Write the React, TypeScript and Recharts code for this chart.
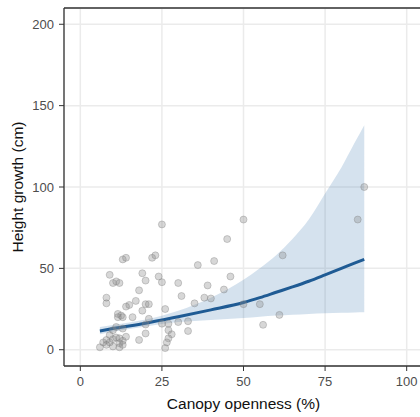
import { Area, ComposedChart, CartesianGrid, Line, ReferenceLine, Scatter, XAxis, YAxis } from "recharts";

// observed saplings: canopy openness (%) vs height growth (cm)
const ptX = [
  25, 50, 45, 13, 14, 22, 23, 36, 41, 9, 10, 11, 12, 19, 20, 24, 25, 18, 30, 39,
  46, 44, 31, 38, 40, 35, 8, 8, 17, 15, 14, 20, 21, 19, 16, 11.5, 12.5, 11.5, 13, 26,
  21, 27, 30, 33, 33, 20, 18, 27, 28, 27, 26.5, 26, 25, 20, 6, 7, 8, 9, 10, 11,
  12, 13, 12, 12, 13, 8, 10, 14, 9, 10, 11, 13, 50, 55, 56, 61, 62, 85, 87,
];
const ptY = [
  77, 80, 68, 55.5, 56.5, 56.5, 58, 52, 54.5, 46, 41, 42, 41, 47, 42.5, 45, 41.5, 36.5, 41, 39.5,
  45, 37, 33, 32, 31.5, 28.5, 32, 28.5, 30, 27.5, 26.5, 28, 28, 24, 20, 22, 21, 20, 20, 25,
  19, 16, 17, 17.5, 11.5, 10, 6, 12, 9.5, 7, 4.5, 1, 16, 15.5, 1.5, 4.5, 6, 4.5, 6.5, 7.5,
  7, 5.5, 4, 1.5, 3, 3, 2, 8, 9, 12, 14, 13, 28, 28, 15.3, 21.4, 58, 80, 100,
];

// fitted curve with its 95% band
const fitX = [6, 10, 20, 30, 40, 50, 55, 60, 65, 70, 75, 80, 84, 87];
const fitY = [11.5, 13, 16.3, 20.3, 24.5, 29, 32, 35.3, 38.6, 42.1, 46, 50, 53.2, 55.5];
const fitLo = [9.5, 11, 14.2, 17, 18.3, 19.5, 20.3, 21, 21.5, 22, 22.4, 22.7, 22.9, 23];
const fitHi = [14, 15.2, 18.5, 24, 32, 43, 50, 58, 68, 80, 96, 112, 127, 138];

const xTicks = [0, 25, 50, 75, 100];
const yTicks = [0, 50, 100, 150, 200];

const points = ptX.map((x, i) => ({ x, y: ptY[i] }));
const curve = fitX.map((x, i) => ({ x, fit: fitY[i], band: [fitLo[i], fitHi[i]] }));

const FONT = "'Liberation Sans', Arial, sans-serif";

const Dot = (props: any) => (
  <circle
    cx={props.cx}
    cy={props.cy}
    r={3.5}
    fill="#8c8c8c"
    fillOpacity={0.35}
    stroke="#7a7a7a"
    strokeOpacity={0.35}
    strokeWidth={1}
  />
);

export default function App() {
  return (
    <div style={{ position: "absolute", left: 0, top: 0, width: 420, height: 417, overflow: "hidden", background: "#fff" }}>
      <ComposedChart width={424} height={417} margin={{ top: 8, right: 1, bottom: 0, left: 0 }}>
        <CartesianGrid stroke="#ebebeb" strokeWidth={1.5} />
        <XAxis
          dataKey="x"
          type="number"
          domain={[-5, 105]}
          ticks={xTicks}
          allowDataOverflow
          height={51}
          tickSize={5}
          tickMargin={6}
          tick={{ fontSize: 13, fill: "#4d4d4d", fontFamily: FONT }}
          tickLine={{ stroke: "#333" }}
          axisLine={{ stroke: "#333", strokeWidth: 1.3 }}
          label={{ value: "Canopy openness (%)", position: "insideBottom", offset: 8, fontSize: 15.5, fill: "#111", fontFamily: FONT }}
        />
        <YAxis
          type="number"
          domain={[-10, 210]}
          ticks={yTicks}
          allowDataOverflow
          width={64}
          tickSize={5}
          tickMargin={5}
          tick={{ fontSize: 13, fill: "#4d4d4d", fontFamily: FONT }}
          tickLine={{ stroke: "#333" }}
          axisLine={{ stroke: "#333", strokeWidth: 1.3 }}
          label={{ value: "Height growth (cm)", angle: -90, position: "center", dx: -15, fontSize: 15.5, fill: "#111", fontFamily: FONT }}
        />
        <ReferenceLine y={210} stroke="#333" strokeWidth={1.3} />
        <Scatter data={points} dataKey="y" shape={Dot} isAnimationActive={false} />
        <Area
          data={curve}
          dataKey="band"
          type="monotone"
          stroke="none"
          fill="#2f6fa8"
          fillOpacity={0.2}
          isAnimationActive={false}
          activeDot={false}
        />
        <Line
          data={curve}
          dataKey="fit"
          type="monotone"
          stroke="#1f5b94"
          strokeWidth={3}
          dot={false}
          activeDot={false}
          isAnimationActive={false}
        />
      </ComposedChart>
    </div>
  );
}
